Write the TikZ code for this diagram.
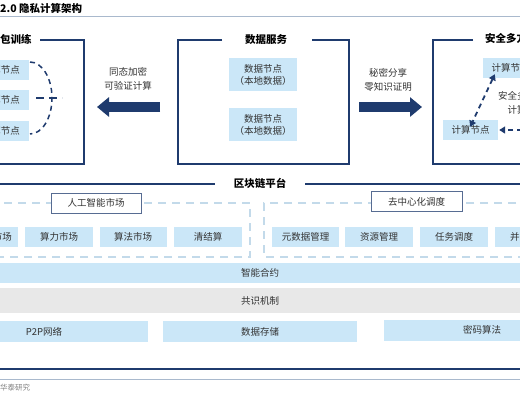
\documentclass[tikz,border=0pt]{standalone}
\usepackage{fontspec}
\setmainfont{Noto Sans CJK SC}
\usetikzlibrary{arrows.meta}
\definecolor{hnavy}{HTML}{1F3B6E}
\definecolor{hcell}{HTML}{CBE7F8}
\definecolor{hgrey}{HTML}{E8E8E8}
\definecolor{hdash}{HTML}{C3DAEA}
\definecolor{hrule}{HTML}{A9B9CD}
\definecolor{htext}{HTML}{333333}

\tikzset{
  cell/.style={fill=hcell, inner sep=0pt, minimum height=20pt, text=htext,
    font=\fontsize{9.5}{12}\selectfont, align=center},
  frame/.style={draw=hnavy, line width=2pt},
  heading/.style={font=\fontsize{10.5}{12}\selectfont\bfseries, text=black, inner sep=1pt},
  tag/.style={draw=hnavy!75, fill=white, line width=0.8pt, inner sep=0pt,
    minimum height=20pt, text=htext, font=\fontsize{9.5}{12}\selectfont},
  group/.style={draw=hdash, line width=1.5pt, dash pattern=on 8pt off 6pt},
  note/.style={text=htext, font=\fontsize{9.5}{14}\selectfont, align=center, inner sep=0pt},
  bigarrow/.style={draw=hnavy, line width=10pt, -{Triangle[length=12pt,width=19pt]}},
  linkarrow/.style={draw=hnavy, line width=1.8pt, dash pattern=on 5pt off 4pt,
    -{Triangle[length=6pt,width=7pt]}},
  dbllink/.style={linkarrow, {Triangle[length=6pt,width=7pt]}-{Triangle[length=6pt,width=7pt]}},
}

\begin{document}
\begin{tikzpicture}[x=1pt, y=-1pt]
  \useasboundingbox (0,0) rectangle (520,400);
  \clip (0,0) rectangle (520,400);
  \fill[white] (0,0) rectangle (520,400);

  % title
  \node[heading, anchor=west] (title) at (-1,8) {2.0 隐私计算架构};
  \draw[hrule, line width=1pt] (-5,16) -- (525,16);

  % left box
  \node[heading, anchor=west] (fltitle) at (-1,39) {包训练};
  \draw[frame] (40,40) -- (84,40) -- (84,164) -- (-5,164);
  \node[cell, minimum width=55pt] (fl1) at (1,70) {计算节点};
  \node[cell, minimum width=55pt] (fl2) at (1,100) {计算节点};
  \node[cell, minimum width=55pt] (fl3) at (1,131) {计算节点};
  \draw[hnavy, line width=1.5pt, dash pattern=on 5pt off 4pt]
    (30,62) arc[start angle=-90, end angle=90, x radius=22, y radius=36];
  \draw[hnavy, line width=1.5pt, dash pattern=on 8pt off 5pt] (36,98) -- (62,98);

  % left arrow
  \node[note] (lalabel) at (128,79) {同态加密\\可验证计算};
  \coordinate (la1) at (160,107);
  \coordinate (la2) at (97,107);
  \draw[bigarrow] (la1) -- (la2);

  % center box
  \node[heading] (dstitle) at (266,40) {数据服务};
  \draw[frame] (222,40) -- (178,40) -- (178,164) -- (349,164) -- (349,40) -- (312,40);
  \node[cell, minimum width=68pt, minimum height=33pt] (ds1) at (263,74.5) {数据节点\\（本地数据）};
  \node[cell, minimum width=68pt, minimum height=33pt] (ds2) at (263,124.5) {数据节点\\（本地数据）};

  % right arrow
  \node[note] (ralabel) at (388,80) {秘密分享\\零知识证明};
  \coordinate (ra1) at (359,107);
  \coordinate (ra2) at (422,107);
  \draw[bigarrow] (ra1) -- (ra2);

  % right box
  \node[heading, anchor=west] (mptitle) at (484,38) {安全多方计算};
  \draw[frame] (473,40) -- (433,40) -- (433,164) -- (530,164);
  \node[cell, minimum width=55pt] (mp1) at (510.5,68) {计算节点};
  \node[cell, minimum width=55pt] (mp2) at (470.5,130) {计算节点};
  \node[note] (mplabel) at (517,103) {安全多方\\计算};
  \coordinate (mpin) at (540,130);
  \draw[dbllink] ([xshift=12pt,yshift=4pt]mp1.south west) -- ([xshift=-28pt,yshift=-7pt]mp2.north east);
  \draw[linkarrow] (mpin) -- ([xshift=1pt]mp2.east);

  % blockchain platform
  \node[heading] (chain) at (260,183) {区块链平台};
  \draw[hnavy, line width=2pt] (-5,184) -- (215,184);
  \draw[hnavy, line width=2pt] (305,184) -- (525,184);

  \draw[group] (-10,203) -- (250,203) -- (250,257) -- (-10,257);
  \draw[group] (530,203) -- (264,203) -- (264,257) -- (530,257);
  \node[tag, minimum width=90pt] (aimarket) at (96,203) {人工智能市场};
  \node[tag, minimum width=91pt] (dsched) at (416.5,201.5) {去中心化调度};

  \node[cell, minimum width=50pt] (m0) at (-7,237) {数据市场};
  \node[cell, minimum width=68pt] (m1) at (59,237) {算力市场};
  \node[cell, minimum width=67pt] (m2) at (133,237) {算法市场};
  \node[cell, minimum width=68pt] (m3) at (208,237) {清结算};
  \node[cell, minimum width=67pt] (s1) at (305.5,237) {元数据管理};
  \node[cell, minimum width=68pt] (s2) at (379,237) {资源管理};
  \node[cell, minimum width=68pt] (s3) at (454,237) {任务调度};
  \node[cell, minimum width=68pt] (s4) at (529,237) {并行计算};

  \node[cell, minimum width=540pt] (contract) at (260,273) {智能合约};
  \node[cell, fill=hgrey, minimum width=540pt, minimum height=25pt] (consensus) at (260,300.5) {共识机制};
  \node[cell, minimum width=208pt, minimum height=21pt] (p2p) at (44,331.5) {P2P网络};
  \node[cell, minimum width=194pt, minimum height=21pt] (store) at (260,331.5) {数据存储};
  \node[cell, minimum width=196pt, minimum height=21pt] (crypto) at (482,330) {密码算法};

  % footer
  \draw[hnavy, line width=2pt] (-5,369) -- (525,369);
  \draw[hrule, line width=1pt] (-5,379) -- (525,379);
  \node[anchor=west, text=gray, font=\fontsize{7.5}{9}\selectfont, inner sep=0pt] (source) at (0,388) {华泰研究};
\end{tikzpicture}
\end{document}
